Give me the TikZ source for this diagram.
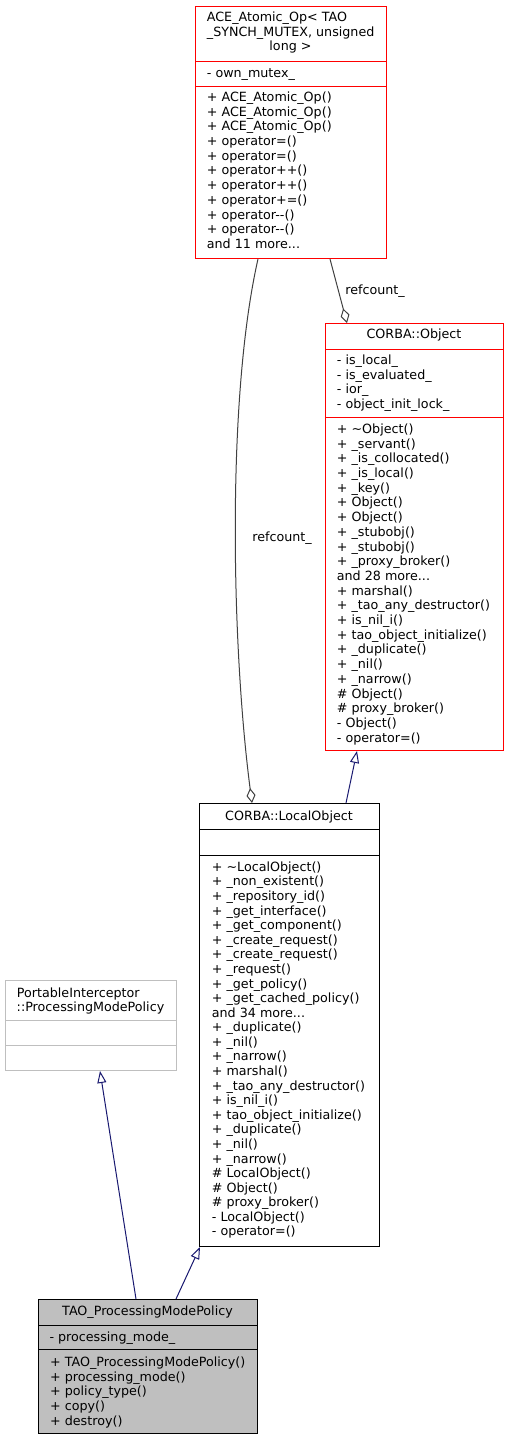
\documentclass[tikz,border=0pt]{standalone}
\usepackage{fontspec}
\setmainfont{DejaVu Sans}
\usetikzlibrary{arrows.meta}
\definecolor{aggr}{HTML}{404040}
\definecolor{inh}{HTML}{191970}
\definecolor{redb}{HTML}{FF0000}
\definecolor{gseventyfive}{HTML}{BFBFBF}
\newcommand{\fs}{\fontsize{12.7}{15}\selectfont}
\newcommand{\mydots}{...}
\tikzset{
  cls/.style={draw, line width=1pt, anchor=north west, inner sep=0pt},
  sep/.style={line width=1pt},
  lbl/.style={anchor=base west, inner sep=0pt, font=\fs},
  ctr/.style={anchor=base, inner sep=0pt, font=\fs},
  inhedge/.style={draw=inh, line width=1pt, -{Triangle[open, length=12pt, width=9pt]}},
  aggedge/.style={draw=aggr, line width=1pt, -{Diamond[open, length=15pt, width=9pt]}},
}
\begin{document}
\begin{tikzpicture}[x=1pt,y=-1pt]
\useasboundingbox (0,0) rectangle (509,1440);

% ---------------- ACE_Atomic_Op ----------------
\node[cls, draw=redb, minimum width=191pt, minimum height=252pt] (ace) at (195,6) {};
\draw[sep, redb] (195,61) -- (386,61);
\draw[sep, redb] (195,86) -- (386,86);
\node[lbl] (ace-t1) at (206.7,17+4.4) {ACE\_Atomic\_Op< TAO};
\node[lbl] (ace-t2) at (206.7,31.7+4.4) {\_SYNCH\_MUTEX, unsigned};
\node[ctr] (ace-t3) at (290.5,46.3+4.4) {long >};
\node[lbl] (ace-a1) at (206.7,73+4.4) {- own\_mutex\_};
\foreach \t [count=\i from 0] in {+ ACE\_Atomic\_Op(), + ACE\_Atomic\_Op(), + ACE\_Atomic\_Op(),
  + operator=(), + operator=(), + operator++(), + operator++(), + operator+=(),
  + operator-{}-(), + operator-{}-(), and 11 more\mydots}
  \node[lbl] (ace-m\i) at (206.7,97+4.4+\i*14.7) {\t};

% ---------------- CORBA::Object ----------------
\node[cls, draw=redb, minimum width=178pt, minimum height=427pt] (obj) at (325,323) {};
\draw[sep, redb] (325,349) -- (503,349);
\draw[sep, redb] (325,417) -- (503,417);
\node[ctr] (obj-t) at (414,334+4.4) {CORBA::Object};
\foreach \t [count=\i from 0] in {- is\_local\_, - is\_evaluated\_, - ior\_, - object\_init\_lock\_}
  \node[lbl] (obj-a\i) at (336.7,360+4.4+\i*14.7) {\t};
\foreach \t [count=\i from 0] in {+ \textasciitilde Object(), + \_servant(), + \_is\_collocated(),
  + \_is\_local(), + \_key(), + Object(), + Object(), + \_stubobj(), + \_stubobj(),
  + \_proxy\_broker(), and 28 more\mydots, + marshal(), + \_tao\_any\_destructor(),
  + is\_nil\_i(), + tao\_object\_initialize(), + \_duplicate(), + \_nil(), + \_narrow(),
  \# Object(), \# proxy\_broker(), - Object(), - operator=()}
  \node[lbl] (obj-m\i) at (336.7,429+4.4+\i*14.7) {\t};

% ---------------- CORBA::LocalObject ----------------
\node[cls, draw=black, minimum width=180pt, minimum height=443pt] (lo) at (199,803) {};
\draw[sep] (199,829) -- (379,829);
\draw[sep] (199,855) -- (379,855);
\node[ctr] (lo-t) at (289,816+4.4) {CORBA::LocalObject};
\foreach \t [count=\i from 0] in {+ \textasciitilde LocalObject(), + \_non\_existent(),
  + \_repository\_id(), + \_get\_interface(), + \_get\_component(), + \_create\_request(),
  + \_create\_request(), + \_request(), + \_get\_policy(), + \_get\_cached\_policy(),
  and 34 more\mydots, + \_duplicate(), + \_nil(), + \_narrow(), + marshal(),
  + \_tao\_any\_destructor(), + is\_nil\_i(), + tao\_object\_initialize(), + \_duplicate(),
  + \_nil(), + \_narrow(), \# LocalObject(), \# Object(), \# proxy\_broker(),
  - LocalObject(), - operator=()}
  \node[lbl] (lo-m\i) at (211.7,867+4.4+\i*14.58) {\t};

% ---------------- PortableInterceptor::ProcessingModePolicy ----------------
\node[cls, draw=gseventyfive, minimum width=171pt, minimum height=90pt] (pi) at (5,980) {};
\draw[sep, gseventyfive] (5,1020) -- (176,1020);
\draw[sep, gseventyfive] (5,1045) -- (176,1045);
\node[lbl] (pi-t1) at (16.7,992.7+4.4) {PortableInterceptor};
\node[ctr] (pi-t2) at (90.5,1006.6+4.4) {::ProcessingModePolicy};

% ---------------- TAO_ProcessingModePolicy ----------------
\node[cls, draw=black, fill=gseventyfive, minimum width=219pt, minimum height=134pt] (tao) at (38,1299) {};
\draw[sep] (38,1325) -- (257,1325);
\draw[sep] (38,1349) -- (257,1349);
\node[ctr] (tao-t) at (147.5,1311+4.4) {TAO\_ProcessingModePolicy};
\node[lbl] (tao-a) at (49.3,1337+4.4) {- processing\_mode\_};
\foreach \t [count=\i from 0] in {+ TAO\_ProcessingModePolicy(), + processing\_mode(),
  + policy\_type(), + copy(), + destroy()}
  \node[lbl] (tao-m\i) at (50,1362+4.4+\i*14.7) {\t};

% ---------------- connectors ----------------
\path[aggedge] ([xshift=63pt]ace.south west) .. controls (226,400) and (232,650) .. ([xshift=53pt]lo.north west);
\node[ctr] (lbl1) at (282,537+4.4) {refcount\_};
\path[aggedge] ([xshift=135pt]ace.south west) -- ([xshift=22pt]obj.north west);
\node[ctr] (lbl2) at (375,290+4.4) {refcount\_};
\path[inhedge] ([xshift=147pt]lo.north west) -- ([xshift=32pt]obj.south west);
\path[inhedge] ([xshift=138pt]tao.north west) -- ([xshift=1pt]lo.south west);
\path[inhedge] ([xshift=98pt]tao.north west) -- ([xshift=95pt]pi.south west);
\end{tikzpicture}
\end{document}
